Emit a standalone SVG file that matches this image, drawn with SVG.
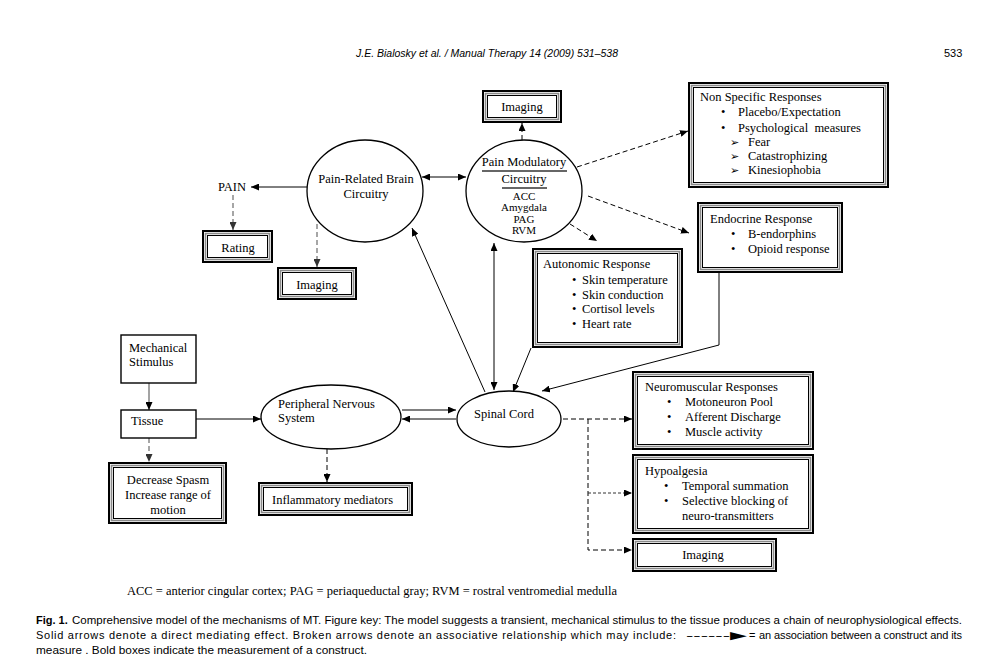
<svg xmlns="http://www.w3.org/2000/svg" width="994" height="669" viewBox="0 0 994 669">
<defs>
<style>
.t{font-family:"Liberation Serif","Times New Roman",serif;font-size:12.5px;fill:#000}
.s{font-size:11px}
.c{text-anchor:middle}
.sym{font-family:"DejaVu Sans",sans-serif;font-size:11px;fill:#000}
.b1{fill:#fff;stroke:#000;stroke-width:2}
.b2{fill:none;stroke:#8a8a8a;stroke-width:1.6}
.b3{fill:none;stroke:#000;stroke-width:1}
.sb{fill:#fff;stroke:#000;stroke-width:1.4}
.el{fill:#fff;stroke:#000;stroke-width:1.3}
.ln{fill:none;stroke:#000;stroke-width:1}
.lg{fill:none;stroke:#666;stroke-width:1.2}
.dk{fill:none;stroke:#000;stroke-width:1;stroke-dasharray:5 3}
.dg{fill:none;stroke:#777;stroke-width:1.3;stroke-dasharray:5 3}
.df{fill:none;stroke:#333;stroke-width:1;stroke-dasharray:3 2}
.hd{font-family:"Liberation Sans",Arial,sans-serif;font-size:11px;font-style:italic;fill:#000}
.cap{font-family:"Liberation Sans",Arial,sans-serif;font-size:11px;fill:#000}
</style>
<marker id="ah" viewBox="0 0 8 7" refX="8" refY="3.5" markerWidth="8" markerHeight="7" markerUnits="userSpaceOnUse" orient="auto-start-reverse"><path d="M0,0 L8,3.5 L0,7 z" fill="#000"/></marker>
<marker id="ahg" viewBox="0 0 8 7" refX="8" refY="3.5" markerWidth="8" markerHeight="7" markerUnits="userSpaceOnUse" orient="auto-start-reverse"><path d="M0,0 L8,3.5 L0,7 z" fill="#333"/></marker>
</defs>
<rect width="994" height="669" fill="#fff"/>

<text class="hd" x="356" y="57" textLength="262" lengthAdjust="spacingAndGlyphs">J.E. Bialosky et al. / Manual Therapy 14 (2009) 531–538</text>
<text class="cap" x="944" y="57">533</text>

<g id="connectors">
<line class="ln" x1="422" y1="177" x2="466" y2="177" marker-start="url(#ah)" marker-end="url(#ah)"/>
<line class="ln" x1="307" y1="187" x2="251" y2="187" marker-end="url(#ah)"/>
<line class="dg" x1="233" y1="195" x2="233" y2="230" marker-end="url(#ahg)"/>
<line class="dg" x1="317" y1="224" x2="317" y2="267" marker-end="url(#ahg)"/>
<line class="dk" x1="522" y1="140" x2="522" y2="123" marker-end="url(#ah)"/>
<line class="dk" x1="577" y1="167" x2="688" y2="131" marker-end="url(#ah)"/>
<line class="dk" x1="588" y1="196" x2="689" y2="233" marker-end="url(#ah)"/>
<line class="dk" x1="570" y1="224" x2="597" y2="241" marker-end="url(#ah)"/>
<line class="ln" x1="494" y1="243" x2="494" y2="390" marker-start="url(#ah)" marker-end="url(#ah)"/>
<line class="ln" x1="485" y1="392" x2="412" y2="228" marker-end="url(#ah)"/>
<line class="ln" x1="531" y1="348" x2="513" y2="392" marker-end="url(#ah)"/>
<polyline class="ln" points="719,273 719,345 542,391" marker-end="url(#ah)"/>
<line class="ln" x1="402" y1="410" x2="456" y2="410" marker-end="url(#ah)"/>
<line class="ln" x1="456" y1="419" x2="402" y2="419" marker-end="url(#ah)"/>
<line class="lg" x1="149" y1="383" x2="149" y2="410" marker-end="url(#ah)"/>
<line class="ln" x1="196" y1="419" x2="261" y2="419" marker-end="url(#ah)"/>
<line class="dg" x1="149" y1="438" x2="149" y2="462" marker-end="url(#ahg)"/>
<line class="dk" x1="327" y1="449" x2="327" y2="482" marker-end="url(#ah)"/>
<line class="dk" x1="563" y1="419" x2="632" y2="419" marker-end="url(#ah)"/>
<polyline class="dk" points="588,419 588,550 632,550" marker-end="url(#ah)"/>
<line class="df" x1="588" y1="493" x2="632" y2="493" marker-end="url(#ah)"/>
</g>

<g id="pain-related-brain">
<ellipse class="el" cx="365" cy="191" rx="58" ry="51"/>
<text class="t c" x="366" y="183">Pain-Related Brain</text>
<text class="t c" x="366" y="198">Circuitry</text>
</g>

<g id="pain-modulatory">
<ellipse class="el" cx="524" cy="191" rx="58" ry="51"/>
<text class="t c" x="524" y="166">Pain Modulatory</text>
<line x1="482" y1="171" x2="567" y2="171" stroke="#333" stroke-width="1.3"/>
<text class="t c" x="524" y="183">Circuitry</text>
<line x1="502" y1="188" x2="547" y2="188" stroke="#333" stroke-width="1.3"/>
<text class="t s c" x="524" y="200">ACC</text>
<text class="t s c" x="524" y="211">Amygdala</text>
<text class="t s c" x="524" y="223">PAG</text>
<text class="t s c" x="524" y="234">RVM</text>
</g>

<g id="pain"><text class="t" x="218" y="191">PAIN</text></g>

<g id="imaging-top">
<rect class="b1" x="483" y="91" width="78" height="31"/>
<rect class="b2" x="485.5" y="93.5" width="73" height="26"/>
<rect class="b3" x="487.5" y="95.5" width="69" height="22"/>
<text class="t c" x="522" y="111">Imaging</text>
</g>

<g id="rating">
<rect class="b1" x="203" y="231" width="69" height="31"/>
<rect class="b2" x="205.5" y="233.5" width="64" height="26"/>
<rect class="b3" x="207.5" y="235.5" width="60" height="22"/>
<text class="t c" x="238" y="252">Rating</text>
</g>

<g id="imaging-left">
<rect class="b1" x="278" y="268" width="78" height="31"/>
<rect class="b2" x="280.5" y="270.5" width="73" height="26"/>
<rect class="b3" x="282.5" y="272.5" width="69" height="22"/>
<text class="t c" x="317" y="289">Imaging</text>
</g>

<g id="non-specific">
<rect class="b1" x="689" y="83" width="199" height="104"/>
<rect class="b2" x="691.5" y="85.5" width="194" height="99"/>
<rect class="b3" x="693.5" y="87.5" width="190" height="95"/>
<text class="t" x="700" y="101">Non Specific Responses</text>
<text class="t" x="721" y="116">•</text><text class="t" x="738" y="116">Placebo/Expectation</text>
<text class="t" x="721" y="132">•</text><text class="t" x="738" y="132" xml:space="preserve">Psychological  measures</text>
<text class="sym" x="730" y="146">➢</text><text class="t" x="748" y="146">Fear</text>
<text class="sym" x="730" y="160">➢</text><text class="t" x="748" y="160">Catastrophizing</text>
<text class="sym" x="730" y="174">➢</text><text class="t" x="748" y="174">Kinesiophobia</text>
</g>

<g id="endocrine">
<rect class="b1" x="698" y="203" width="144" height="69"/>
<rect class="b2" x="700.5" y="205.5" width="139" height="64"/>
<rect class="b3" x="702.5" y="207.5" width="135" height="60"/>
<text class="t" x="710" y="223">Endocrine Response</text>
<text class="t" x="731" y="238">•</text><text class="t" x="748" y="238">B-endorphins</text>
<text class="t" x="731" y="253">•</text><text class="t" x="748" y="253">Opioid response</text>
</g>

<g id="autonomic">
<rect class="b1" x="533" y="249" width="149" height="98"/>
<rect class="b2" x="535.5" y="251.5" width="144" height="93"/>
<rect class="b3" x="537.5" y="253.5" width="140" height="89"/>
<text class="t" x="543" y="268">Autonomic Response</text>
<text class="t" x="572" y="284">•</text><text class="t" x="582" y="284">Skin temperature</text>
<text class="t" x="572" y="299">•</text><text class="t" x="582" y="299">Skin conduction</text>
<text class="t" x="572" y="313">•</text><text class="t" x="582" y="313">Cortisol levels</text>
<text class="t" x="572" y="328">•</text><text class="t" x="582" y="328">Heart rate</text>
</g>

<g id="mechanical-stimulus">
<rect class="sb" x="121" y="335" width="75" height="48"/>
<text class="t" x="129" y="352">Mechanical</text>
<text class="t" x="129" y="366">Stimulus</text>
</g>

<g id="tissue">
<rect class="sb" x="121" y="410" width="75" height="28"/>
<text class="t" x="131" y="425">Tissue</text>
</g>

<g id="decrease-spasm">
<rect class="b1" x="109" y="463" width="117" height="60"/>
<rect class="b2" x="111.5" y="465.5" width="112" height="55"/>
<rect class="b3" x="113.5" y="467.5" width="108" height="51"/>
<text class="t c" x="168" y="484">Decrease Spasm</text>
<text class="t c" x="168" y="499">Increase range of</text>
<text class="t c" x="168" y="514">motion</text>
</g>

<g id="peripheral-nervous-system">
<ellipse class="el" cx="331" cy="417" rx="70" ry="32"/>
<text class="t" x="278" y="408">Peripheral Nervous</text>
<text class="t" x="278" y="422">System</text>
</g>

<g id="inflammatory">
<rect class="b1" x="259" y="483" width="153" height="32"/>
<rect class="b2" x="261.5" y="485.5" width="148" height="27"/>
<rect class="b3" x="263.5" y="487.5" width="144" height="23"/>
<text class="t" x="272" y="504">Inflammatory mediators</text>
</g>

<g id="spinal-cord">
<ellipse class="el" cx="509" cy="419" rx="52" ry="28"/>
<text class="t c" x="504" y="418">Spinal Cord</text>
</g>

<g id="neuromuscular">
<rect class="b1" x="633" y="372" width="180" height="77"/>
<rect class="b2" x="635.5" y="374.5" width="175" height="72"/>
<rect class="b3" x="637.5" y="376.5" width="171" height="68"/>
<text class="t" x="645" y="391">Neuromuscular Responses</text>
<text class="t" x="667" y="406">•</text><text class="t" x="685" y="406">Motoneuron Pool</text>
<text class="t" x="667" y="421">•</text><text class="t" x="685" y="421">Afferent Discharge</text>
<text class="t" x="667" y="436">•</text><text class="t" x="685" y="436">Muscle activity</text>
</g>

<g id="hypoalgesia">
<rect class="b1" x="633" y="455" width="180" height="78"/>
<rect class="b2" x="635.5" y="457.5" width="175" height="73"/>
<rect class="b3" x="637.5" y="459.5" width="171" height="69"/>
<text class="t" x="645" y="475">Hypoalgesia</text>
<text class="t" x="664" y="490">•</text><text class="t" x="682" y="490">Temporal summation</text>
<text class="t" x="664" y="505">•</text><text class="t" x="682" y="505">Selective blocking of</text>
<text class="t" x="682" y="520">neuro-transmitters</text>
</g>

<g id="imaging-bottom">
<rect class="b1" x="633" y="539" width="143" height="32"/>
<rect class="b2" x="635.5" y="541.5" width="138" height="27"/>
<rect class="b3" x="637.5" y="543.5" width="134" height="23"/>
<text class="t c" x="703" y="559">Imaging</text>
</g>

<text class="t" x="127" y="595" textLength="490" lengthAdjust="spacingAndGlyphs">ACC = anterior cingular cortex; PAG = periaqueductal gray; RVM = rostral ventromedial medulla</text>

<text class="cap" x="36" y="624" font-weight="bold">Fig. 1.</text>
<text class="cap" x="72" y="624" textLength="890" lengthAdjust="spacingAndGlyphs">Comprehensive model of the mechanisms of MT. Figure key: The model suggests a transient, mechanical stimulus to the tissue produces a chain of neurophysiological effects.</text>
<text class="cap" x="36" y="639" textLength="640" lengthAdjust="spacing">Solid arrows denote a direct mediating effect. Broken arrows denote an associative relationship which may include:</text>
<text class="cap" x="686" y="639" textLength="60" lengthAdjust="spacingAndGlyphs">------▶</text>
<text class="cap" x="749" y="639">=</text>
<text class="cap" x="759" y="639" textLength="203" lengthAdjust="spacing">an association between a construct and its</text>
<text class="cap" x="36" y="654" textLength="331" lengthAdjust="spacingAndGlyphs">measure . Bold boxes indicate the measurement of a construct.</text>
</svg>
